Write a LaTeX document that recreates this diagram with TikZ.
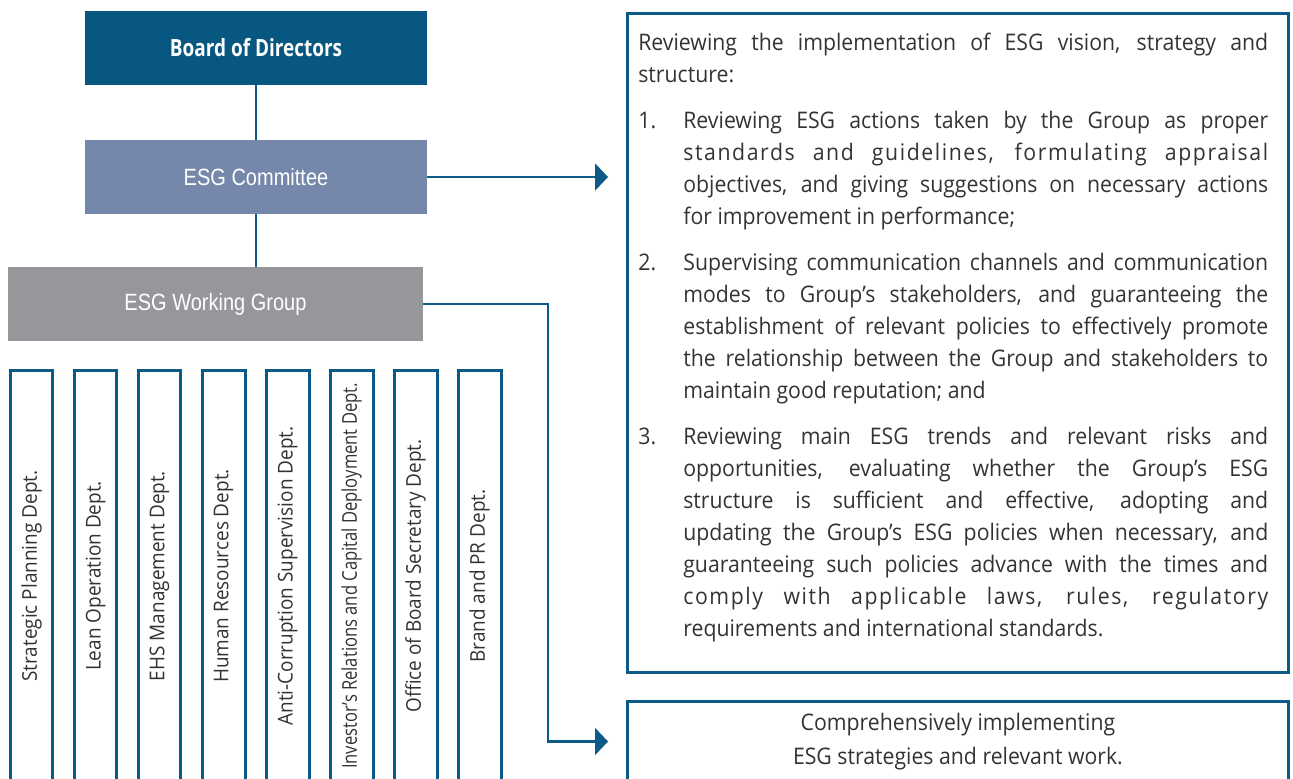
\documentclass[tikz,border=0pt]{standalone}
\usepackage{fontspec}
\usepackage{graphicx}
\setmainfont{Open Sans}
\newfontfamily\bodyfont[FakeStretch=0.93]{Open Sans}
\newfontfamily\headfont[FakeStretch=0.8]{Open Sans}
\newfontfamily\labelfont[FakeStretch=0.85]{Liberation Sans}
\usetikzlibrary{arrows.meta,positioning,calc}
\definecolor{boardblue}{HTML}{085780}
\definecolor{committeeblue}{HTML}{7587AA}
\definecolor{groupgray}{HTML}{96979B}
\definecolor{lineblue}{HTML}{0B5A87}
\definecolor{textgray}{HTML}{333333}
\tikzset{
  orgbox/.style={minimum width=6.84cm, minimum height=1.48cm, inner sep=0pt, text=white},
  deptbox/.style={draw=lineblue, line width=0.06cm, rotate=90, minimum width=8.24cm,
    minimum height=0.86cm, inner sep=0pt, text=textgray,
    font=\bodyfont\fontsize{11.6}{13}\selectfont},
  dutybox/.style={draw=lineblue, line width=0.06cm, anchor=north west, inner sep=0pt},
  conn/.style={draw=lineblue, line width=0.045cm},
  tip/.style={-{Triangle[length=0.26cm,width=0.54cm]}, shorten >=0.36cm}
}
\newcommand{\itemno}[1]{\hangindent=0.9cm\hangafter=1\makebox[0.9cm][l]{#1}}
\newcommand{\spaced}[1]{{\addfontfeature{LetterSpace=7}#1}}
\begin{document}
\begin{tikzpicture}[x=0.02cm, y=-0.02cm]
\useasboundingbox (0,0) rectangle (1293,778);
% management levels
\node[orgbox, fill=boardblue, font=\headfont\bfseries\fontsize{13.5}{16}\selectfont] (board) at (256,48) {Board of Directors};
\node[orgbox, fill=committeeblue, font=\labelfont\fontsize{13.4}{16}\selectfont] (committee) at (256,177) {ESG Committee};
\node[orgbox, fill=groupgray, minimum width=8.3cm, font=\labelfont\fontsize{13.4}{16}\selectfont] (group) at (215.5,304) {ESG Working Group};
% departments
\foreach \dname [count=\i] in {Strategic Planning Dept., Lean Operation Dept., EHS Management Dept.,
    Human Resources Dept., Anti-Corruption Supervision Dept.,
    {\resizebox{7.72cm}{\height}{Investor’s Relations and Capital Deployment Dept.}},
    Office of Board Secretary Dept., Brand and PR Dept.}
  \node[deptbox] (dept\i) at ({31.5+64*(\i-1)},576) {\dname};
% duties
\node[dutybox, minimum width=13.22cm, minimum height=13.18cm] (duties) at (626,12) {};
\node[anchor=north west, inner sep=0pt, text width=12.6cm, align=justify, text=textgray,
  font=\bodyfont\fontsize{13}{18.2}\selectfont] (dutiestext) at (638,33) {%
  \setlength{\parskip}{8pt}\tolerance=9999\hbadness=10000
  Reviewing the implementation of ESG vision, strategy and\linebreak structure:\par
  \itemno{1.}Reviewing ESG actions taken by the Group as proper\linebreak \spaced{standards and guidelines, formulating appraisal}\linebreak objectives, and giving suggestions on necessary actions\linebreak for improvement in performance;\par
  \itemno{2.}Supervising communication channels and communication\linebreak modes to Group’s stakeholders, and guaranteeing the\linebreak establishment of relevant policies to effectively promote\linebreak the relationship between the Group and stakeholders to\linebreak maintain good reputation; and\par
  \itemno{3.}Reviewing main ESG trends and relevant risks and\linebreak opportunities, evaluating whether the Group’s ESG\linebreak structure is sufficient and effective, adopting and\linebreak updating the Group’s ESG policies when necessary, and\linebreak guaranteeing such policies advance with the times and\linebreak \spaced{comply with applicable laws, rules, regulatory}\linebreak requirements and international standards.\par};
\node[dutybox, minimum width=13.22cm, minimum height=1.6cm, align=center, text=textgray,
  font=\bodyfont\fontsize{13}{19.3}\selectfont] (work) at (626,700) {Comprehensively implementing\\ESG strategies and relevant work.};
% connectors
\draw[conn] (board) -- (committee);
\draw[conn] (committee.south) -- (committee.south |- group.north);
\draw[conn, tip] (committee.east) -- (committee.east -| duties.west);
\draw[conn, tip] (group.east) -- ++(125,0) |- (work.west);
\end{tikzpicture}
\end{document}
